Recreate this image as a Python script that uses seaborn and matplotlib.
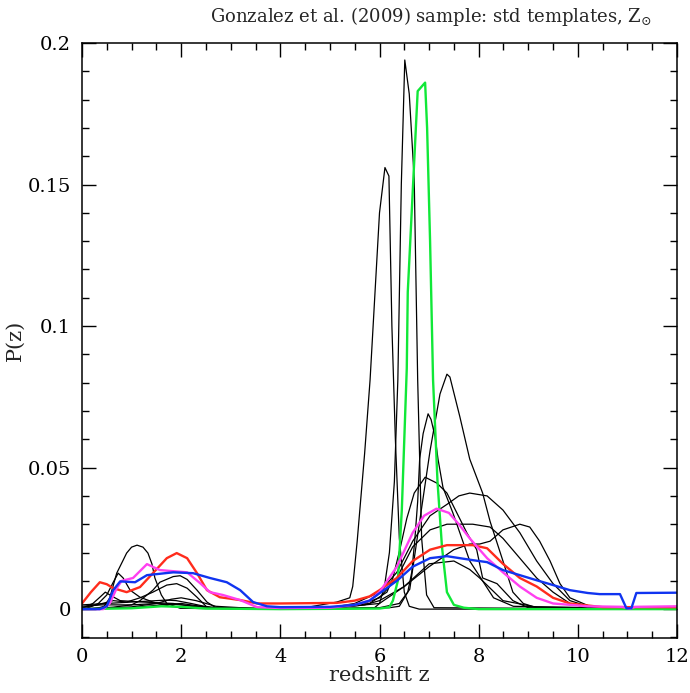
import matplotlib
matplotlib.use("Agg")
import matplotlib.pyplot as plt
import seaborn as sns
from matplotlib.ticker import MultipleLocator, FuncFormatter

# ---------------- data ----------------
z_k1 = [0, 0.3, 0.45, 0.56, 0.7, 0.83, 0.9, 1.0, 1.11, 1.23, 1.33, 1.41, 1.47, 1.6, 1.71, 1.98, 2.5, 3.5, 4.5, 5.14, 5.4, 5.46, 5.5, 5.55, 5.7, 5.81, 6.0, 6.11, 6.19, 6.25, 6.32, 6.4, 6.5, 6.6, 6.8, 12]
p_k1 = [0, 0.0003, 0.001, 0.004, 0.0127, 0.0173, 0.0198, 0.0219, 0.0226, 0.0219, 0.0198, 0.016, 0.011, 0.005, 0.002, 0.0003, 0.0002, 0.0002, 0.0005, 0.0025, 0.004, 0.008, 0.015, 0.024, 0.055, 0.081, 0.14, 0.156, 0.153, 0.10, 0.06, 0.025, 0.006, 0.001, 0, 0]

z_k2 = [0, 0.16, 0.33, 0.5, 0.63, 0.73, 0.83, 0.97, 1.17, 1.43, 1.77, 2.2, 3.5, 5.0, 5.9, 6.0, 6.1, 6.2, 6.3, 6.37, 6.44, 6.51, 6.6, 6.7, 6.77, 6.85, 6.95, 7.1, 12]
p_k2 = [0, 0.0007, 0.002, 0.005, 0.0095, 0.0127, 0.011, 0.0067, 0.0042, 0.0025, 0.001, 0.0003, 0.0002, 0.0002, 0.0005, 0.002, 0.008, 0.02, 0.045, 0.081, 0.15, 0.194, 0.182, 0.152, 0.081, 0.025, 0.005, 0.0005, 0]

z_k3 = [0, 0.63, 1.0, 1.17, 1.43, 1.57, 1.84, 1.98, 2.12, 2.32, 2.52, 2.7, 3.5, 5.0, 6.0, 6.4, 6.61, 6.81, 7.02, 7.22, 7.36, 7.42, 7.62, 7.82, 8.08, 8.23, 8.49, 8.69, 8.9, 9.2, 12]
p_k3 = [0, 0.0007, 0.0015, 0.003, 0.0067, 0.0095, 0.0115, 0.0118, 0.0105, 0.0067, 0.0025, 0.0005, 0.0002, 0.0002, 0.0005, 0.002, 0.007, 0.031, 0.056, 0.076, 0.083, 0.082, 0.068, 0.053, 0.041, 0.031, 0.017, 0.006, 0.002, 0.0003, 0]

z_k4 = [0, 0.3, 0.63, 0.9, 1.17, 1.43, 1.71, 1.91, 2.12, 2.32, 2.52, 2.8, 4.0, 5.5, 6.2, 6.4, 6.57, 6.65, 6.71, 6.77, 6.81, 6.88, 6.98, 7.04, 7.12, 7.18, 7.28, 7.48, 7.82, 8.3, 8.7, 12]
p_k4 = [0.0005, 0.0015, 0.003, 0.0025, 0.004, 0.006, 0.0085, 0.009, 0.0074, 0.0042, 0.0007, 0.0002, 0.0001, 0.0002, 0.0005, 0.001, 0.006, 0.013, 0.024, 0.038, 0.053, 0.062, 0.069, 0.067, 0.061, 0.053, 0.043, 0.034, 0.017, 0.004, 0.001, 0]

z_k5 = [0, 0.22, 0.36, 0.47, 0.6, 0.77, 1.23, 1.84, 2.4, 3.5, 5.0, 5.8, 6.15, 6.27, 6.41, 6.55, 6.7, 6.92, 7.16, 7.36, 7.56, 7.76, 7.96, 8.08, 8.37, 8.69, 9.0, 12]
p_k5 = [0.0003, 0.002, 0.0042, 0.006, 0.0046, 0.003, 0.0025, 0.002, 0.0005, 0.0002, 0.0003, 0.002, 0.006, 0.011, 0.021, 0.032, 0.041, 0.0466, 0.0445, 0.041, 0.034, 0.027, 0.021, 0.011, 0.009, 0.003, 0.0005, 0]

z_k6 = [0, 0.5, 1.0, 1.5, 1.7, 1.9, 2.2, 2.6, 3.5, 5.0, 5.5, 6.0, 6.35, 6.67, 7.02, 7.36, 7.6, 7.82, 8.17, 8.49, 8.83, 9.17, 9.5, 9.84, 10.2, 10.6, 12]
p_k6 = [0.0015, 0.002, 0.0025, 0.003, 0.0032, 0.003, 0.002, 0.0005, 0.0002, 0.0005, 0.002, 0.006, 0.013, 0.024, 0.033, 0.037, 0.040, 0.041, 0.040, 0.035, 0.027, 0.017, 0.009, 0.003, 0.001, 0.0001, 0]

z_k7 = [0, 1.0, 1.6, 2.0, 2.4, 3.0, 5.0, 5.6, 6.0, 6.35, 6.67, 7.02, 7.36, 7.88, 8.23, 8.49, 8.83, 9.17, 9.5, 9.84, 10.2, 12]
p_k7 = [0.0002, 0.0005, 0.0015, 0.002, 0.001, 0.0002, 0.0003, 0.0015, 0.004, 0.011, 0.022, 0.028, 0.030, 0.030, 0.029, 0.025, 0.018, 0.011, 0.006, 0.002, 0.0005, 0]

z_k8 = [0, 0.4, 1.0, 1.5, 2.0, 2.6, 3.5, 5.0, 5.7, 6.0, 6.5, 7.0, 7.5, 7.82, 8.02, 8.23, 8.49, 8.83, 9.03, 9.23, 9.44, 9.64, 9.84, 10.24, 10.6, 12]
p_k8 = [0.001, 0.0015, 0.0015, 0.002, 0.0015, 0.0005, 0.0002, 0.0003, 0.0015, 0.003, 0.008, 0.015, 0.021, 0.023, 0.023, 0.024, 0.028, 0.030, 0.029, 0.024, 0.017, 0.009, 0.004, 0.001, 0.0002, 0]

z_k9 = [0, 1.0, 1.5, 1.8, 2.0, 2.3, 2.7, 3.5, 5.0, 6.0, 6.5, 7.0, 7.5, 7.82, 8.02, 8.49, 9.17, 12]
p_k9 = [0, 0.0008, 0.002, 0.0035, 0.004, 0.003, 0.001, 0.0002, 0.0003, 0.002, 0.008, 0.016, 0.017, 0.014, 0.011, 0.003, 0.0007, 0]

z_green = [0, 1.0, 1.6, 2.0, 2.5, 4.0, 6.0, 6.2, 6.27, 6.37, 6.45, 6.55, 6.57, 6.77, 6.92, 6.96, 7.02, 7.08, 7.17, 7.26, 7.36, 7.5, 7.7, 8.0, 12]
p_green = [0, 0.0003, 0.001, 0.0008, 0.0002, 0, 0.0002, 0.0007, 0.003, 0.010, 0.035, 0.085, 0.112, 0.183, 0.186, 0.17, 0.13, 0.081, 0.045, 0.022, 0.006, 0.0015, 0.0005, 0, 0]

z_red = [0, 0.18, 0.36, 0.5, 0.63, 0.9, 1.17, 1.43, 1.71, 1.91, 2.12, 2.32, 2.52, 2.78, 3.19, 3.53, 4.0, 5.14, 5.5, 5.8, 6.0, 6.35, 6.67, 7.02, 7.36, 7.88, 8.17, 8.49, 8.83, 9.17, 9.5, 9.84, 10.5, 12]
p_red = [0.002, 0.006, 0.0095, 0.0088, 0.0074, 0.006, 0.0078, 0.0127, 0.018, 0.0198, 0.018, 0.0127, 0.0067, 0.0042, 0.0032, 0.002, 0.002, 0.0022, 0.003, 0.0045, 0.0067, 0.011, 0.017, 0.021, 0.0226, 0.0226, 0.0215, 0.016, 0.011, 0.008, 0.004, 0.002, 0.0007, 0.0007]

z_magenta = [0, 0.43, 0.56, 0.7, 0.8, 1.03, 1.31, 1.57, 1.84, 2.12, 2.38, 2.58, 2.84, 3.19, 3.53, 4.0, 5.0, 5.5, 5.8, 6.0, 6.35, 6.67, 6.9, 7.15, 7.4, 7.6, 7.82, 8.17, 8.49, 8.83, 9.17, 9.5, 10.2, 10.9, 11.05, 11.15, 12]
p_magenta = [0, 0, 0.002, 0.0074, 0.010, 0.011, 0.0159, 0.0138, 0.0134, 0.013, 0.0092, 0.006, 0.005, 0.0032, 0.0007, 0.0004, 0.0005, 0.0015, 0.003, 0.006, 0.015, 0.027, 0.033, 0.0355, 0.034, 0.030, 0.025, 0.018, 0.013, 0.008, 0.004, 0.002, 0.001, 0.0008, 0.0001, 0.0008, 0.001]

z_blue = [0, 0.36, 0.5, 0.63, 0.77, 1.07, 1.31, 1.84, 2.24, 2.58, 2.92, 3.19, 3.45, 3.73, 4.0, 5.0, 5.5, 5.8, 6.0, 6.35, 6.67, 7.02, 7.36, 7.88, 8.17, 8.49, 8.83, 9.17, 9.5, 9.84, 10.2, 10.44, 10.85, 10.98, 11.08, 11.18, 12]
p_blue = [0, 0, 0.001, 0.0067, 0.0098, 0.0095, 0.012, 0.013, 0.0127, 0.011, 0.0095, 0.0067, 0.0025, 0.001, 0.0007, 0.0008, 0.0015, 0.003, 0.0056, 0.010, 0.015, 0.018, 0.0187, 0.0173, 0.0166, 0.0138, 0.012, 0.0102, 0.0085, 0.0067, 0.0057, 0.0053, 0.0053, 0.0003, 0.0003, 0.0057, 0.0058]

title = r"Gonzalez et al. (2009) sample: std templates, Z$_{\odot}$"
xlabel = "redshift z"
ylabel = "P(z)"

# ---------------- plotting ----------------
sns.set_style("ticks")
plt.rcParams["font.family"] = ["DejaVu Serif"]
plt.rcParams["mathtext.fontset"] = "dejavuserif"

fig = plt.figure(figsize=(6.9, 6.93), dpi=100)
ax = fig.add_axes([82 / 690, 55 / 693, 595 / 690, 595 / 693])

black = [(z_k1, p_k1), (z_k2, p_k2), (z_k3, p_k3), (z_k4, p_k4), (z_k5, p_k5),
         (z_k6, p_k6), (z_k7, p_k7), (z_k8, p_k8), (z_k9, p_k9)]
for zz, pp in black:
    sns.lineplot(x=zz, y=pp, color="black", lw=0.9, ax=ax, sort=False, estimator=None)

coloured = [(z_green, p_green, "#10e838"), (z_red, p_red, "#ff2c1c"),
            (z_magenta, p_magenta, "#ff40f0"), (z_blue, p_blue, "#1034f0")]
for zz, pp, c in coloured:
    sns.lineplot(x=zz, y=pp, color=c, lw=1.7, ax=ax, sort=False, estimator=None)

ax.set_xlim(0, 12)
ax.set_ylim(-0.0102, 0.2)
ax.xaxis.set_major_locator(MultipleLocator(2))
ax.xaxis.set_minor_locator(MultipleLocator(0.5))
ax.yaxis.set_major_locator(MultipleLocator(0.05))
ax.yaxis.set_minor_locator(MultipleLocator(0.01))
ax.yaxis.set_major_formatter(FuncFormatter(lambda v, p: "%g" % round(v, 4)))
ax.tick_params(which="both", direction="in", top=True, right=True, width=1, colors="black")
ax.tick_params(which="major", length=10, labelsize=14)
ax.tick_params(which="minor", length=5)
ax.tick_params(axis="y", pad=8)
ax.tick_params(axis="x", pad=7)
for s in ax.spines.values():
    s.set_linewidth(1.1)
    s.set_color("black")

ax.set_xlabel(xlabel, fontsize=15, labelpad=0)
ax.set_ylabel(ylabel, fontsize=15, labelpad=2)
fig.text(652 / 690, 1 - 16 / 693, title, ha="right", va="center", fontsize=13)

fig.savefig("out.png", dpi=100)
